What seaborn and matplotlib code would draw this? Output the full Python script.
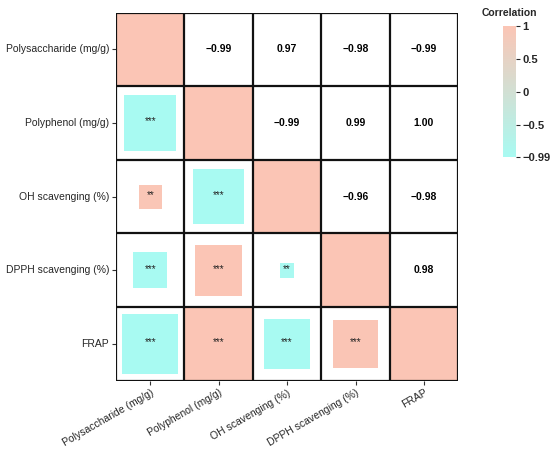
import numpy as np
import pandas as pd
import matplotlib
matplotlib.use('Agg')
import matplotlib.pyplot as plt
from matplotlib.colors import LinearSegmentedColormap
from matplotlib.patches import Rectangle
import seaborn as sns

# variables
labels = ['Polysaccharide (mg/g)', 'Polyphenol (mg/g)', 'OH scavenging (%)',
          'DPPH scavenging (%)', 'FRAP']

# pairwise correlations (row i > col j), read from the upper triangle
corr_pairs = {
    (1, 0): -0.99,
    (2, 0): 0.97, (2, 1): -0.99,
    (3, 0): -0.98, (3, 1): 0.99, (3, 2): -0.96,
    (4, 0): -0.99, (4, 1): 1.00, (4, 2): -0.98, (4, 3): 0.98,
}
# significance stars for lower triangle
stars = {
    (1, 0): '***',
    (2, 0): '**', (2, 1): '***',
    (3, 0): '***', (3, 1): '***', (3, 2): '**',
    (4, 0): '***', (4, 1): '***', (4, 2): '***', (4, 3): '***',
}
# square size (fraction of cell) as drawn in the lower triangle
square_size = {
    (1, 0): 0.76,
    (2, 0): 0.33, (2, 1): 0.75,
    (3, 0): 0.49, (3, 1): 0.69, (3, 2): 0.20,
    (4, 0): 0.82, (4, 1): 1.00, (4, 2): 0.68, (4, 3): 0.65,
}

cbar_ticks = [1, 0.5, 0, -0.5, -0.99]
cbar_ticklabels = ['1', '0.5', '0', '\u22120.5', '\u22120.99']

n = len(labels)
mat = np.eye(n)
for (i, j), r in corr_pairs.items():
    mat[i, j] = r
    mat[j, i] = r
df = pd.DataFrame(mat, index=labels, columns=labels)

sns.set_style('white')
plt.rcParams['font.family'] = ['Liberation Sans', 'DejaVu Sans']

cmap = LinearSegmentedColormap.from_list('cc', ['#A8FAF2', '#FBC5B5'])
vmin, vmax = -0.99, 1.0

fig = plt.figure(figsize=(5.5, 4.49), dpi=100)
ax = fig.add_axes([0.211, 0.152, 0.622, 0.820])
cax = fig.add_axes([0.915, 0.650, 0.024, 0.292])

# diagonal only through heatmap
mask = ~np.eye(n, dtype=bool)
sns.heatmap(df, mask=mask, cmap=cmap, vmin=vmin, vmax=vmax, ax=ax,
            cbar_ax=cax, square=False, linewidths=0)

norm = plt.Normalize(vmin, vmax)
for (i, j), r in corr_pairs.items():
    # upper triangle: numbers
    ax.text(i + 0.5, j + 0.5, f'{r:.2f}'.replace('-', '\u2212'),
            ha='center', va='center', fontsize=7.5, fontweight='bold', color='black')
    # lower triangle: squares
    s = square_size[(i, j)]
    ax.add_patch(Rectangle((j + 0.5 - s / 2, i + 0.5 - s / 2), s, s,
                           facecolor=cmap(norm(r)), edgecolor='none', zorder=2))
    ax.text(j + 0.5, i + 0.48, stars[(i, j)], ha='center', va='center',
            fontsize=7, color='#222222', zorder=3)

for k in range(n + 1):
    ax.axhline(k, color='#111111', lw=1.6, zorder=4)
    ax.axvline(k, color='#111111', lw=1.6, zorder=4)
ax.set_xlim(0, n)
ax.set_ylim(n, 0)

ax.set_xticks(np.arange(n) + 0.5)
ax.set_yticks(np.arange(n) + 0.5)
ax.set_xticklabels(labels, rotation=30, ha='right', rotation_mode='anchor', fontsize=7.5)
ax.set_yticklabels(labels, rotation=0, fontsize=7.5)
ax.tick_params(axis='both', length=3, width=0.8, color='#333333', pad=2, bottom=True, left=True)
ax.set_xlabel('')
ax.set_ylabel('')

cax.set_yticks(cbar_ticks)
cax.set_yticklabels(cbar_ticklabels, fontsize=8, fontweight='bold')
cax.tick_params(axis='y', length=3, width=0.8, pad=1, right=True)
for sp in cax.spines.values():
    sp.set_visible(False)
cax.set_title('Correlation', fontsize=7.5, fontweight='bold', pad=7)

fig.savefig('out.png', dpi=100)
